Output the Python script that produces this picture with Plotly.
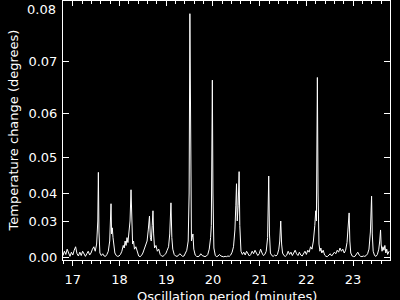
import numpy as np
import plotly.graph_objects as go

# Oscillation period (minutes) and temperature change (degrees)
period_min = [
    16.79, 16.82, 16.85, 16.88, 16.91, 16.94, 16.97, 17.00, 17.03, 17.06, 17.09, 17.12, 17.15, 17.18,
    17.21, 17.24, 17.27, 17.30, 17.33, 17.36, 17.39, 17.42, 17.45, 17.48, 17.51, 17.535, 17.547, 17.56,
    17.58, 17.61, 17.64, 17.67, 17.70, 17.73, 17.76, 17.79, 17.805, 17.818, 17.83, 17.845, 17.861, 17.88,
    17.90, 17.93, 17.96, 17.99, 18.02, 18.05, 18.08, 18.10, 18.12, 18.14, 18.16, 18.18, 18.20, 18.225,
    18.246, 18.26, 18.28, 18.30, 18.32, 18.35, 18.38, 18.41, 18.44, 18.47, 18.50, 18.53, 18.56, 18.59,
    18.615, 18.641, 18.66, 18.68, 18.70, 18.716, 18.73, 18.75, 18.78, 18.81, 18.84, 18.87, 18.90, 18.93,
    18.96, 18.99, 19.02, 19.05, 19.075, 19.101, 19.12, 19.14, 19.17, 19.20, 19.23, 19.26, 19.29, 19.32,
    19.35, 19.38, 19.41, 19.44, 19.47, 19.49, 19.506, 19.52, 19.54, 19.555, 19.571, 19.59, 19.62, 19.65,
    19.68, 19.71, 19.74, 19.77, 19.80, 19.83, 19.86, 19.89, 19.92, 19.95, 19.965, 19.987, 20.00, 20.02,
    20.05, 20.08, 20.11, 20.14, 20.17, 20.20, 20.23, 20.26, 20.29, 20.32, 20.35, 20.38, 20.41, 20.44,
    20.47, 20.49, 20.504, 20.52, 20.54, 20.56, 20.575, 20.60, 20.63, 20.66, 20.69, 20.72, 20.75, 20.78,
    20.81, 20.84, 20.87, 20.90, 20.93, 20.96, 20.99, 21.02, 21.05, 21.08, 21.11, 21.14, 21.17, 21.194,
    21.21, 21.23, 21.26, 21.29, 21.32, 21.35, 21.38, 21.41, 21.43, 21.451, 21.47, 21.49, 21.52, 21.55,
    21.58, 21.61, 21.64, 21.67, 21.70, 21.73, 21.76, 21.79, 21.82, 21.85, 21.88, 21.91, 21.94, 21.97,
    22.00, 22.03, 22.06, 22.09, 22.12, 22.15, 22.18, 22.20, 22.215, 22.235, 22.25, 22.27, 22.29, 22.31,
    22.33, 22.36, 22.39, 22.42, 22.45, 22.48, 22.51, 22.54, 22.57, 22.60, 22.63, 22.66, 22.69, 22.72,
    22.75, 22.78, 22.81, 22.84, 22.87, 22.895, 22.915, 22.93, 22.95, 22.98, 23.01, 23.04, 23.07, 23.10,
    23.13, 23.16, 23.19, 23.22, 23.25, 23.28, 23.31, 23.34, 23.37, 23.38, 23.396, 23.41, 23.43, 23.46,
    23.49, 23.52, 23.55, 23.57, 23.588, 23.60, 23.62, 23.64, 23.66, 23.68, 23.70, 23.72, 23.74, 23.77,
]
temp_change_deg = [
    0.006, 0.012, 0.008, 0.014, 0.010, 0.004, 0.011, 0.007, 0.013, 0.016, 0.009, 0.005, 0.011, 0.006,
    0.012, 0.008, 0.004, 0.009, 0.012, 0.007, 0.010, 0.014, 0.016, 0.012, 0.018, 0.030, 0.046, 0.025,
    0.010, 0.006, 0.009, 0.005, 0.004, 0.008, 0.012, 0.020, 0.028, 0.0365, 0.024, 0.027, 0.022, 0.015,
    0.010, 0.006, 0.004, 0.005, 0.008, 0.012, 0.017, 0.015, 0.020, 0.017, 0.022, 0.019, 0.024, 0.030,
    0.041, 0.030, 0.018, 0.020, 0.014, 0.016, 0.010, 0.005, 0.003, 0.006, 0.010, 0.014, 0.018, 0.020,
    0.026, 0.032, 0.022, 0.020, 0.028, 0.034, 0.024, 0.015, 0.017, 0.012, 0.014, 0.008, 0.005, 0.004,
    0.007, 0.009, 0.013, 0.016, 0.024, 0.0368, 0.022, 0.014, 0.008, 0.005, 0.004, 0.006, 0.009, 0.006,
    0.004, 0.005, 0.009, 0.013, 0.020, 0.040, 0.078, 0.050, 0.020, 0.022, 0.024, 0.014, 0.007, 0.004,
    0.003, 0.005, 0.009, 0.006, 0.004, 0.003, 0.005, 0.008, 0.014, 0.022, 0.028, 0.0665, 0.040, 0.015,
    0.006, 0.003, 0.005, 0.008, 0.005, 0.003, 0.002, 0.004, 0.003, 0.005, 0.004, 0.007, 0.011, 0.016,
    0.026, 0.036, 0.0428, 0.030, 0.036, 0.0462, 0.028, 0.012, 0.008, 0.011, 0.007, 0.012, 0.009, 0.005,
    0.008, 0.012, 0.009, 0.013, 0.010, 0.006, 0.009, 0.014, 0.010, 0.006, 0.008, 0.012, 0.022, 0.045,
    0.024, 0.010, 0.006, 0.004, 0.007, 0.005, 0.008, 0.014, 0.020, 0.030, 0.018, 0.010, 0.006, 0.004,
    0.007, 0.012, 0.008, 0.011, 0.006, 0.010, 0.013, 0.009, 0.006, 0.011, 0.007, 0.005, 0.009, 0.012,
    0.008, 0.013, 0.011, 0.016, 0.014, 0.020, 0.028, 0.034, 0.030, 0.067, 0.040, 0.018, 0.012, 0.015,
    0.010, 0.013, 0.007, 0.004, 0.003, 0.006, 0.009, 0.005, 0.008, 0.011, 0.009, 0.013, 0.011, 0.015,
    0.012, 0.014, 0.010, 0.013, 0.019, 0.026, 0.0332, 0.020, 0.010, 0.005, 0.003, 0.004, 0.008, 0.011,
    0.007, 0.004, 0.003, 0.005, 0.004, 0.006, 0.009, 0.014, 0.025, 0.034, 0.039, 0.024, 0.012, 0.006,
    0.004, 0.008, 0.014, 0.020, 0.026, 0.018, 0.012, 0.016, 0.013, 0.017, 0.010, 0.014, 0.008, 0.012,
]

# y axis is drawn on a squared (power) scale, labelled in amplitude
ytick_values = [0.00, 0.03, 0.04, 0.05, 0.06, 0.07, 0.08]
ytick_labels = ["0.00", "0.03", "0.04", "0.05", "0.06", "0.07", "0.08"]
xtick_values = [17, 18, 19, 20, 21, 22, 23]

x_range = [16.79, 23.79]
y_range = [-0.000075, 0.006401]

power = np.square(np.array(temp_change_deg))

FONT = "DejaVu Sans"
fig = go.Figure()
fig.add_trace(go.Scatter(
    x=period_min, y=power, mode="lines",
    line=dict(color="white", width=1), hoverinfo="skip", showlegend=False,
))
fig.add_trace(go.Scatter(x=[], y=[], xaxis="x2", showlegend=False, hoverinfo="skip"))

# the top label sits just inside the canvas, so it is drawn as an annotation
axis_labels = ytick_labels[:-1] + [""]

fig.update_layout(
    width=400, height=300,
    margin=dict(l=63, r=10, t=1, b=40, pad=0),
    paper_bgcolor="black", plot_bgcolor="black",
    font=dict(family=FONT, size=13, color="white"),
    xaxis=dict(
        range=x_range, tickvals=xtick_values, ticktext=[str(v) for v in xtick_values],
        ticks="outside", ticklen=5, tickwidth=1, tickcolor="white",
        minor=dict(dtick=0.2, tick0=17, ticks="outside", ticklen=3, tickcolor="white", showgrid=False),
        showline=True, linecolor="white", linewidth=1, showgrid=False, zeroline=False,
        ticklabelstandoff=2,
        tickfont=dict(family=FONT, size=13, color="white"),
    ),
    xaxis2=dict(
        range=x_range, overlaying="x", side="top", tickvals=xtick_values,
        ticks="inside", ticklen=5, tickwidth=1, tickcolor="white",
        minor=dict(dtick=0.2, tick0=17, ticks="inside", ticklen=3, tickcolor="white", showgrid=False),
        showticklabels=False, showline=True, linecolor="white", linewidth=1,
        showgrid=False, zeroline=False,
    ),
    yaxis=dict(
        range=y_range, tickvals=[v * v for v in ytick_values], ticktext=axis_labels,
        ticks="inside", ticklen=6, tickwidth=1, tickcolor="white",
        showline=True, linecolor="white", linewidth=1, mirror="ticks",
        showgrid=False, zeroline=False, ticklabelstandoff=2,
        tickfont=dict(family=FONT, size=13, color="white"),
    ),
    annotations=[
        dict(text=ytick_labels[-1], xref="paper", yref="paper",
             x=0, y=1, xanchor="right", yanchor="top", xshift=-5, yshift=1,
             showarrow=False, font=dict(family=FONT, size=13, color="white")),
        dict(text="Oscillation period (minutes)", xref="paper", yref="paper",
             x=0.5, y=0, xanchor="center", yanchor="top", yshift=-27,
             showarrow=False, font=dict(family=FONT, size=13, color="white")),
        dict(text="Temperature change (degrees)", xref="paper", yref="paper",
             x=0, y=0.5, xanchor="center", yanchor="middle", xshift=-50, textangle=-90,
             showarrow=False, font=dict(family=FONT, size=13, color="white")),
    ],
)

fig.write_html("out.html")
